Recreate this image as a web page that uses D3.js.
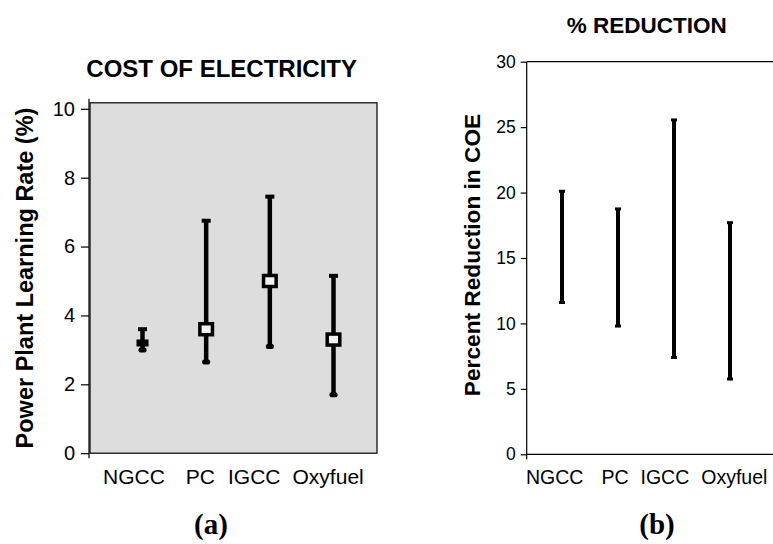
<!DOCTYPE html>
<html><head><meta charset="utf-8">
<script src="https://cdn.jsdelivr.net/npm/d3@7"></script>
<style>body{margin:0;background:#fff} svg{display:block} text{font-family:Arial,"Liberation Sans",sans-serif;fill:#000}</style>
</head><body><svg id="c" width="773" height="544"></svg>
<script>
const categories = ["NGCC", "PC", "IGCC", "Oxyfuel"];
const learningLow = [3.0, 2.65, 3.1, 1.7];
const learningHigh = [3.6, 6.75, 7.45, 5.15];
const learningMid = [3.2, 3.6, 5.0, 3.3];
const reductionLow = [11.6, 9.8, 7.4, 5.75];
const reductionHigh = [20.1, 18.75, 25.55, 17.7];
const leftTicks = [0, 2, 4, 6, 8, 10];
const rightTicks = [0, 5, 10, 15, 20, 25, 30];

const svg = d3.select("#c");

// category labels laid out as one flowing text line (as in the original)
function flowLabels(g, startX, y, size, gaps) {
  let x = startX;
  g.selectAll(null).data(categories).join("text")
    .attr("y", y).style("font-size", size + "px").text(d => d)
    .each(function(d, i) {
      const w = this.getComputedTextLength();
      d3.select(this).attr("x", x);
      x += w + gaps[Math.min(i, gaps.length - 1)];
    });
}

// ---------- Left panel ----------
const L = {left: 89, right: 377, top: 108.8, bottom: 453.2};
const yL = d3.scaleLinear().domain([0, 10]).range([L.bottom, L.top]);
const xL = d3.scalePoint().domain(categories).range([142.5, 333.5]);
const gL = svg.append("g");

gL.append("rect").attr("x", L.left + 1).attr("y", yL(10) - 6)
  .attr("width", L.right - L.left - 1).attr("height", yL(0) - yL(10) + 6)
  .attr("fill", "#dddddd").attr("stroke", "#000").attr("stroke-width", 1.2);

const axL = gL.append("g").attr("transform", `translate(${L.left},0)`)
  .call(d3.axisLeft(yL).tickValues(leftTicks).tickSize(8).tickPadding(6).tickFormat(d3.format("d")));
axL.select(".domain").remove();
axL.selectAll("text").style("font-size", "20px").attr("font-family", null);
axL.selectAll("line").attr("stroke-width", 1.2);
gL.append("line").attr("x1", L.left).attr("x2", L.left).attr("y1", yL(10) - 10).attr("y2", yL(0) + 5)
  .attr("stroke", "#000").attr("stroke-width", 1.2);

flowLabels(gL, 103, 484, 21, [21, 13, 12]);

categories.forEach((c, i) => {
  const x = xL(c);
  gL.append("line").attr("x1", x).attr("x2", x)
    .attr("y1", yL(learningLow[i])).attr("y2", yL(learningHigh[i]))
    .attr("stroke", "#000").attr("stroke-width", 4.5);
  gL.append("rect").attr("x", x - 4.5).attr("y", yL(learningHigh[i]) - 2)
    .attr("width", 9).attr("height", 4).attr("fill", "#000");
  gL.append("rect").attr("x", x - 4).attr("y", yL(learningLow[i]) - 2.5)
    .attr("width", 8).attr("height", 5).attr("rx", 2).attr("fill", "#000");
  if (i === 0) {
    gL.append("rect").attr("x", x - 6).attr("y", yL(learningMid[i]) - 3.5)
      .attr("width", 12).attr("height", 7).attr("fill", "#000");
  } else {
    gL.append("rect").attr("x", x - 6.3).attr("y", yL(learningMid[i]) - 5.5)
      .attr("width", 12.6).attr("height", 11).attr("fill", "#f2f2f2")
      .attr("stroke", "#000").attr("stroke-width", 3.5);
  }
});

gL.append("text").attr("x", 221.7).attr("y", 76.7).attr("text-anchor", "middle")
  .style("font-size", "24px").style("font-weight", "bold").text("COST OF ELECTRICITY");
gL.append("text").attr("transform", `translate(32.5,${(L.top + L.bottom) / 2 - 3}) rotate(-90)`)
  .attr("text-anchor", "middle").style("font-size", "23.5px").style("font-weight", "bold")
  .text("Power Plant Learning Rate (%)");

// ---------- Right panel ----------
const R = {left: 526.7, right: 773, top: 61.7, bottom: 454.3};
const yR = d3.scaleLinear().domain([0, 30]).range([R.bottom, R.top]);
const xR = d3.scalePoint().domain(categories).range([562, 730]);
const gR = svg.append("g");

gR.append("line").attr("x1", R.left).attr("x2", R.right + 5).attr("y1", yR(30)).attr("y2", yR(30))
  .attr("stroke", "#000").attr("stroke-width", 1.2);
gR.append("line").attr("x1", R.left).attr("x2", R.right + 5).attr("y1", yR(0)).attr("y2", yR(0))
  .attr("stroke", "#000").attr("stroke-width", 1.2);
const axR = gR.append("g").attr("transform", `translate(${R.left},0)`)
  .call(d3.axisLeft(yR).tickValues(rightTicks).tickSize(6).tickPadding(5).tickFormat(d3.format("d")));
axR.select(".domain").remove();
axR.selectAll("text").style("font-size", "17.5px").attr("font-family", null);
axR.selectAll("line").attr("stroke-width", 1.2);
gR.append("line").attr("x1", R.left).attr("x2", R.left).attr("y1", yR(30)).attr("y2", yR(0) + 5)
  .attr("stroke", "#000").attr("stroke-width", 1.2);

flowLabels(gR, 526, 484, 19.5, [18, 12, 12]);

categories.forEach((c, i) => {
  const x = xR(c);
  gR.append("line").attr("x1", x).attr("x2", x)
    .attr("y1", yR(reductionLow[i])).attr("y2", yR(reductionHigh[i]))
    .attr("stroke", "#000").attr("stroke-width", 4);
  [reductionLow[i], reductionHigh[i]].forEach(v => {
    gR.append("rect").attr("x", x - 3).attr("y", yR(v) - 1.5)
      .attr("width", 6).attr("height", 3).attr("fill", "#000");
  });
});

gR.append("text").attr("x", 646.7).attr("y", 33).attr("text-anchor", "middle")
  .style("font-size", "22.5px").style("font-weight", "bold").text("% REDUCTION");
gR.append("text").attr("transform", `translate(480,${(R.top + R.bottom) / 2 - 3}) rotate(-90)`)
  .attr("text-anchor", "middle").style("font-size", "22.7px").style("font-weight", "bold")
  .text("Percent Reduction in COE");

// ---------- Panel letters ----------
svg.append("text").attr("x", 211).attr("y", 534).attr("text-anchor", "middle")
  .style("font-family", "'Liberation Serif','Times New Roman',serif").style("font-size", "29px")
  .style("font-weight", "bold").text("(a)");
svg.append("text").attr("x", 657).attr("y", 534).attr("text-anchor", "middle")
  .style("font-family", "'Liberation Serif','Times New Roman',serif").style("font-size", "29px")
  .style("font-weight", "bold").text("(b)");
</script></body></html>
